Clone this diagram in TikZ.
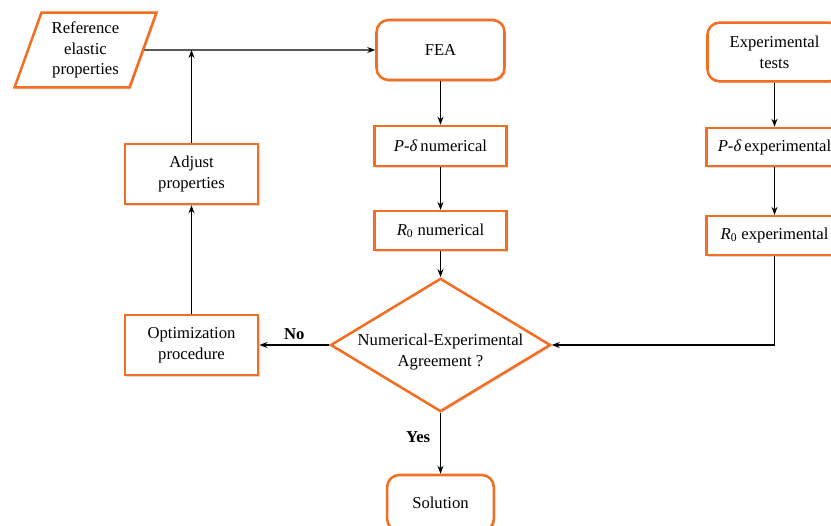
\documentclass[tikz,border=0pt]{standalone}
\usepackage{fontspec}
\setmainfont{Liberation Serif}
\usetikzlibrary{shapes.geometric,arrows.meta,shadows}
\definecolor{boxorange}{RGB}{242,110,34}

\begin{document}
\begin{tikzpicture}[x=0.75pt,y=-0.75pt,
    >={Stealth[length=6pt,width=4.5pt]},
    every node/.style={font=\fontsize{12.5}{15.5}\selectfont, align=center},
    box/.style={draw=boxorange, line width=1.9pt, fill=white, inner sep=2pt,
      drop shadow={shadow xshift=1pt, shadow yshift=-1.3pt, opacity=0.3}},
    termbox/.style={box, rounded corners=9pt},
    flow/.style={->, line width=0.9pt},
    answer/.style={font=\fontsize{12.5}{15}\selectfont\bfseries}]

  \useasboundingbox (0,0) rectangle (831,525);

  % left column
  \node[box, trapezium, trapezium left angle=70, trapezium right angle=110,
        trapezium stretches=true, minimum width=107pt, minimum height=56pt,
        inner sep=0pt] (ref) at (85.5,50) {Reference\\elastic\\properties};
  \node[box, minimum width=100pt, minimum height=45pt] (adj) at (191.5,174) {Adjust\\properties};
  \node[box, minimum width=100pt, minimum height=45pt] (opt) at (191.5,345) {Optimization\\procedure};

  % numerical branch
  \node[termbox, minimum width=96pt, minimum height=45pt] (fea) at (440.5,50) {FEA};
  \node[box, minimum width=99pt, minimum height=30pt] (pnum) at (440.5,146) {\textit{P}-\textit{δ}\,numerical};
  \node[box, minimum width=99pt, minimum height=29pt] (rnum) at (440.5,230.5) {\textit{R}\textsubscript{0} numerical};

  % experimental branch
  \node[termbox, minimum width=100.5pt, minimum height=44pt] (tests) at (774.5,52) {Experimental\\tests};
  \node[box, minimum width=102pt, minimum height=28.5pt] (pexp) at (774.5,147) {\textit{P}-\textit{δ}\,experimental};
  \node[box, minimum width=102pt, minimum height=29pt] (rexp) at (774.5,235.5) {\textit{R}\textsubscript{0} experimental};

  % decision
  \node[box, diamond, aspect=1.65, minimum width=165pt, minimum height=100pt,
        inner sep=0pt] (dia) at (440.5,345) {\strut};
  \node (diatext) at (440.5,352) {Numerical-Experimental\\Agreement ?};

  \node[termbox, minimum width=80pt, minimum height=42pt] (sol) at (440.5,503) {Solution};

  % connectors
  \draw[flow] (ref.east) -- (fea.west);
  \coordinate (join) at (adj.north |- ref.east);
  \draw[flow] (adj.north) -- (join);
  \draw[flow] (opt.north) -- (adj.south);

  \draw[flow] (fea.south) -- (pnum.north);
  \draw[flow] (pnum.south) -- (rnum.north);
  \draw[flow] (rnum.south) -- (dia.north);

  \draw[flow] (tests.south) -- (pexp.north);
  \draw[flow] (pexp.south) -- (rexp.north);
  \coordinate (bend) at (rexp.south |- dia.east);
  \draw[flow] (rexp.south) -- (bend) -- (dia.east);

  \draw[flow] (dia.west) -- node[answer, above] (no) {No} (opt.east);
  \draw[flow] (dia.south) -- node[answer, left, pos=0.4, xshift=-4pt] (yes) {Yes} (sol.north);

\end{tikzpicture}
\end{document}
